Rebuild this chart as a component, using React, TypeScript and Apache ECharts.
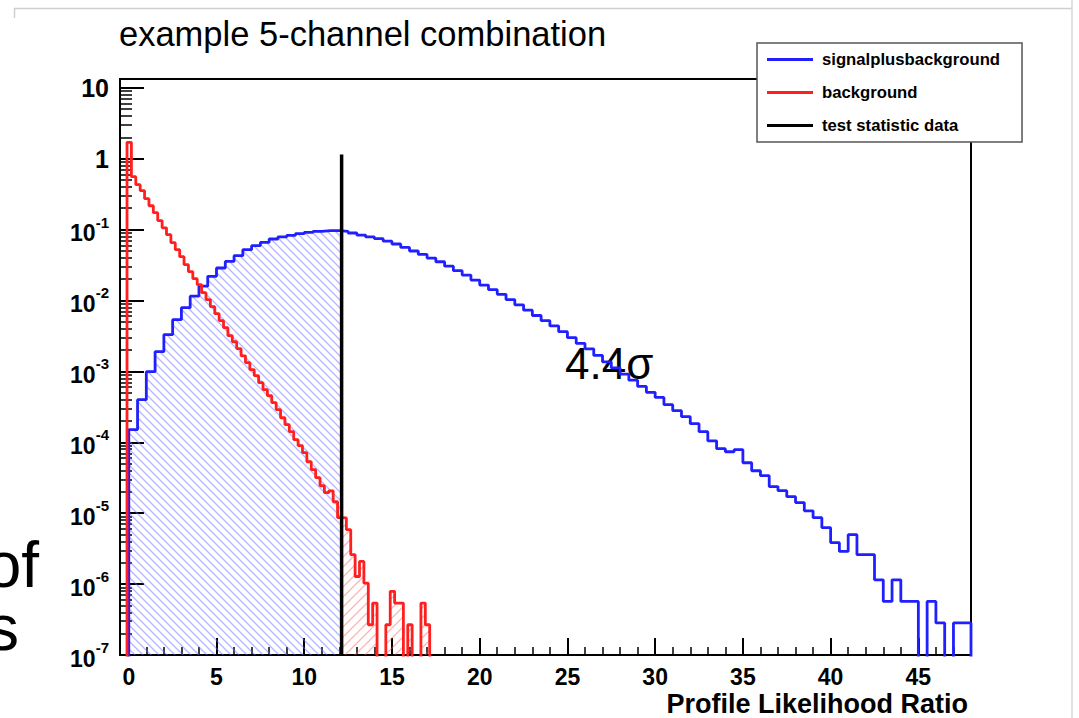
import React, { useEffect, useRef } from "react";
import * as echarts from "echarts";

// ---------------- data ----------------
const sbBinStart = 0;
const sbBinWidth = 0.5;
const sbValues = [
  1.51e-4, 3.99e-4, 9.9e-4, 1.9e-3, 3.3e-3, 5.36e-3, 7.91e-3, 1.15e-2, 1.59e-2, 2.19e-2,
  2.87e-2, 3.56e-2, 4.29e-2, 5.21e-2, 5.93e-2, 6.59e-2, 7.37e-2, 7.87e-2, 8.28e-2, 8.75e-2,
  9.14e-2, 9.44e-2, 9.64e-2, 9.64e-2, 9.44e-2, 8.95e-2, 8.36e-2, 7.89e-2, 7.44e-2, 6.86e-2,
  6.26e-2, 5.61e-2, 4.99e-2, 4.46e-2, 3.96e-2, 3.52e-2, 3.05e-2, 2.63e-2, 2.28e-2, 1.94e-2,
  1.65e-2, 1.42e-2, 1.22e-2, 1.03e-2, 8.69e-3, 7.3e-3, 6.14e-3, 5.19e-3, 4.38e-3, 3.63e-3,
  2.99e-3, 2.48e-3, 2.08e-3, 1.68e-3, 1.36e-3, 1.12e-3, 9.16e-4, 7.52e-4, 6.14e-4, 5.06e-4,
  4.3e-4, 3.39e-4, 2.79e-4, 2.3e-4, 1.83e-4, 1.41e-4, 1.05e-4, 8.13e-5, 7.36e-5, 7.87e-5,
  5.15e-5, 3.97e-5, 3.38e-5, 2.37e-5, 2.08e-5, 1.71e-5, 1.41e-5, 1.08e-5, 8.65e-6, 6.24e-6,
  3.84e-6, 2.89e-6, 4.98e-6, 2.6e-6, 2.6e-6, 1.15e-6, 5.7e-7, 1.15e-6, 5.7e-7, 5.7e-7,
  0, 5.7e-7, 2.83e-7, 0, 2.83e-7, 2.83e-7,
];

const bBinStart = -0.1;
const bBinWidth = 0.25;
const bValues = [
  1.7, 0.557, 0.43, 0.354, 0.273, 0.217, 0.173, 0.134, 0.106, 0.0847,
  0.0653, 0.0521, 0.0415, 0.032, 0.0255, 0.0203, 0.0167, 0.0129, 0.0103, 8.18e-3,
  6.52e-3, 5.19e-3, 4.13e-3, 3.19e-3, 2.62e-3, 2.09e-3, 1.66e-3, 1.33e-3, 1.06e-3, 8.69e-4,
  6.93e-4, 5.52e-4, 4.54e-4, 3.62e-4, 2.88e-4, 2.22e-4, 1.77e-4, 1.41e-4, 1.09e-4, 8.95e-5,
  7.13e-5, 5.32e-5, 4.11e-5, 3.17e-5, 2.44e-5, 1.95e-5, 2.07e-5, 1.45e-5, 8.65e-6, 8.6e-6,
  5.85e-6, 2.6e-6, 1.28e-6, 2.09e-6, 1.03e-6, 2.67e-7, 5.4e-7, 0, 0, 2.67e-7,
  7.9e-7, 5.4e-7, 5.4e-7, 0, 2.67e-7, 0, 0, 5.4e-7, 2.67e-7, 0,
  0, 0, 0, 0,
];

const testStatistic = 12.13;
const testLineTop = 1.15;

const xMajorTicks = [0, 5, 10, 15, 20, 25, 30, 35, 40, 45];
const xMinorTicks = [
  0, 1, 2, 3, 4, 5, 6, 7, 8, 9, 10, 11, 12, 13, 14, 15, 16, 17, 18, 19, 20, 21, 22, 23, 24,
  25, 26, 27, 28, 29, 30, 31, 32, 33, 34, 35, 36, 37, 38, 39, 40, 41, 42, 43, 44, 45, 46, 47, 48,
];
const yDecades = [1e-7, 1e-6, 1e-5, 1e-4, 1e-3, 1e-2, 1e-1, 1, 10];
const yMinorMultipliers = [2, 3, 4, 5, 6, 7, 8, 9];

const names = ["signalplusbackground", "background", "test statistic data"];

// ---------------- helpers ----------------
const FLOOR = 1e-9;
const val = (v: number) => (v > 0 ? v : FLOOR);

function stepPoints(start: number, width: number, values: number[]) {
  const pts: number[][] = [[start, FLOOR]];
  values.forEach((v, i) => pts.push([start + i * width, val(v)]));
  const end = start + values.length * width;
  pts.push([end, val(values[values.length - 1])]);
  pts.push([end, FLOOR]);
  return pts;
}

function fillBefore(start: number, width: number, values: number[], t: number) {
  const pts: number[][] = [];
  let last = FLOOR;
  for (let i = 0; i < values.length; i++) {
    const e = start + i * width;
    if (e >= t) break;
    last = val(values[i]);
    pts.push([e, last]);
  }
  pts.push([t, last]);
  return pts;
}

function fillAfter(start: number, width: number, values: number[], t: number) {
  const k = Math.floor((t - start) / width);
  const pts: number[][] = [[t, val(values[k])]];
  for (let i = k + 1; i < values.length; i++) pts.push([start + i * width, val(values[i])]);
  pts.push([start + values.length * width, val(values[values.length - 1])]);
  return pts;
}

// dir 1: "/" lines, dir -1: "\" lines
function hatch(color: string, size: number, w: number, dir: number) {
  const s = size;
  const d =
    dir > 0
      ? `M${-s / 4},${s / 4} L${s / 4},${-s / 4} M0,${s} L${s},0 M${(3 * s) / 4},${(5 * s) / 4} L${(5 * s) / 4},${(3 * s) / 4}`
      : `M${-s / 4},${(3 * s) / 4} L${s / 4},${(5 * s) / 4} M0,0 L${s},${s} M${(3 * s) / 4},${-s / 4} L${(5 * s) / 4},${s / 4}`;
  const svg =
    `<svg xmlns='http://www.w3.org/2000/svg' width='${s}' height='${s}'>` +
    `<path d='${d}' stroke='${color}' stroke-width='${w}' fill='none'/></svg>`;
  return {
    image: "data:image/svg+xml;charset=utf-8," + encodeURIComponent(svg),
    repeat: "repeat",
    imageWidth: s,
    imageHeight: s,
  };
}

const FONT = "'Liberation Sans', Arial, Helvetica, sans-serif";

export default function App() {
  const ref = useRef<HTMLDivElement>(null);

  useEffect(() => {
    if (!ref.current) return;
    const chart = echarts.init(ref.current, null, { renderer: "svg" });

    const yMinor: number[] = [];
    yDecades.forEach((d) => {
      yMinorMultipliers.forEach((m) => {
        const v = d * m;
        if (v < 13.3) yMinor.push(v);
      });
    });

    const yLabelFormatter = (v: number) => {
      const e = Math.round(Math.log10(v));
      if (e === 1) return "{n|10}";
      if (e === 0) return "{n|1}";
      return "{m|10}{s|" + e + "}";
    };

    const option: any = {
      animation: false,
      backgroundColor: "#fff",
      title: {
        text: "example 5-channel combination",
        left: 119,
        top: 16,
        padding: 0,
        textStyle: { fontFamily: FONT, fontSize: 34.5, fontWeight: "normal", color: "#000" },
      },
      legend: {
        orient: "vertical",
        left: 757,
        top: 43,
        padding: [8, 22, 8, 10],
        itemWidth: 46,
        itemHeight: 3,
        itemGap: 16,
        backgroundColor: "#fff",
        borderColor: "#555",
        borderWidth: 1.5,
        selectedMode: false,
        textStyle: {
          fontFamily: FONT,
          fontSize: 16.7,
          fontWeight: "bold",
          color: "#000",
          lineHeight: 16,
          padding: [0, 0, 0, 4],
        },
        data: names.map((n) => ({ name: n, icon: "rect" })),
      },
      grid: {
        left: 120,
        right: 108,
        top: 79,
        bottom: 63,
        show: true,
        borderColor: "#000",
        borderWidth: 2,
        backgroundColor: "transparent",
      },
      xAxis: [
        {
          type: "value",
          min: -0.5,
          max: 48,
          position: "bottom",
          axisLine: { show: true, onZero: false, lineStyle: { color: "#000", width: 2 } },
          axisTick: { show: true, inside: true, length: 17, customValues: xMajorTicks, lineStyle: { color: "#000", width: 2 } },
          axisLabel: {
            customValues: xMajorTicks,
            fontFamily: FONT,
            fontSize: 23,
            fontWeight: "bold",
            color: "#000",
            margin: 10,
          },
          splitLine: { show: false },
          name: "Profile Likelihood Ratio",
          nameLocation: "end",
          nameGap: -3,
          nameTextStyle: {
            fontFamily: FONT,
            fontSize: 27,
            fontWeight: "bold",
            color: "#000",
            align: "right",
            verticalAlign: "top",
            padding: [35, 0, 0, 0],
          },
        },
        {
          type: "value",
          min: -0.5,
          max: 48,
          position: "bottom",
          axisLine: { show: false, onZero: false },
          axisTick: { show: true, inside: true, length: 8, customValues: xMinorTicks, lineStyle: { color: "#000", width: 1.5 } },
          axisLabel: { show: false },
          splitLine: { show: false },
        },
      ],
      yAxis: [
        {
          type: "log",
          logBase: 10,
          min: 1e-7,
          max: 13.3,
          position: "left",
          axisLine: { show: true, onZero: false, lineStyle: { color: "#000", width: 2 } },
          axisTick: { show: true, inside: true, length: 24, customValues: yDecades, lineStyle: { color: "#000", width: 2 } },
          axisLabel: {
            customValues: yDecades,
            margin: 11,
            formatter: yLabelFormatter,
            rich: {
              n: { fontFamily: FONT, fontSize: 25, fontWeight: "bold", color: "#000" },
              m: { fontFamily: FONT, fontSize: 23, fontWeight: "bold", color: "#000", lineHeight: 30, verticalAlign: "bottom" },
              s: { fontFamily: FONT, fontSize: 15, fontWeight: "bold", color: "#000", lineHeight: 15, verticalAlign: "top" },
            },
          },
          splitLine: { show: false },
        },
        {
          type: "log",
          logBase: 10,
          min: 1e-7,
          max: 13.3,
          position: "left",
          axisLine: { show: false, onZero: false },
          axisTick: { show: true, inside: true, length: 12, customValues: yMinor, lineStyle: { color: "#000", width: 1.5 } },
          axisLabel: { show: false },
          splitLine: { show: false },
        },
      ],
      graphic: [
        { type: "line", shape: { x1: 14, y1: 8.5, x2: 1072, y2: 8.5 }, style: { stroke: "#cfcfcf", lineWidth: 1.5 } },
        { type: "line", shape: { x1: 14.5, y1: 8, x2: 14.5, y2: 18 }, style: { stroke: "#cfcfcf", lineWidth: 1.5 } },
        { type: "line", shape: { x1: 1072, y1: 0, x2: 1072, y2: 718 }, style: { stroke: "#d8d8d8", lineWidth: 1.5 } },
        {
          type: "text",
          x: 565,
          y: 363,
          style: { text: "4.4σ", font: `44px ${FONT}`, fill: "#000", align: "left", verticalAlign: "middle", textAlign: "left", textVerticalAlign: "middle" },
        },
        {
          type: "text",
          x: 39,
          y: 565,
          style: { text: "of", font: `64px ${FONT}`, lineHeight: 54, fill: "#000", align: "right", verticalAlign: "middle", textAlign: "right", textVerticalAlign: "middle" },
        },
        {
          type: "text",
          x: 19,
          y: 628,
          style: { text: "s", font: `64px ${FONT}`, lineHeight: 54, fill: "#000", align: "right", verticalAlign: "middle", textAlign: "right", textVerticalAlign: "middle" },
        },
      ],
      series: [
        {
          name: "sbFill",
          type: "line",
          step: "end",
          symbol: "none",
          silent: true,
          z: 1,
          data: fillBefore(sbBinStart, sbBinWidth, sbValues, testStatistic),
          lineStyle: { width: 0, opacity: 0 },
          areaStyle: { origin: "start", opacity: 1, color: hatch("rgba(110,110,255,0.5)", 8, 1.3, -1) },
        },
        {
          name: "bFill",
          type: "line",
          step: "end",
          symbol: "none",
          silent: true,
          z: 1,
          data: fillAfter(bBinStart, bBinWidth, bValues, testStatistic),
          lineStyle: { width: 0, opacity: 0 },
          areaStyle: { origin: "start", opacity: 1, color: hatch("rgba(255,90,90,0.45)", 10, 1.3, 1) },
        },
        {
          name: names[0],
          type: "line",
          step: "end",
          symbol: "none",
          z: 2,
          color: "#1f1fff",
          data: stepPoints(sbBinStart, sbBinWidth, sbValues),
          lineStyle: { width: 2.8, color: "#1f1fff" },
        },
        {
          name: names[1],
          type: "line",
          step: "end",
          symbol: "none",
          z: 3,
          color: "#ff1f1f",
          data: stepPoints(bBinStart, bBinWidth, bValues),
          lineStyle: { width: 2.8, color: "#ff1f1f" },
        },
        {
          name: names[2],
          type: "line",
          symbol: "none",
          z: 4,
          color: "#000",
          data: [
            [testStatistic, 1e-7],
            [testStatistic, testLineTop],
          ],
          lineStyle: { width: 3.5, color: "#000" },
        },
      ],
    };

    chart.setOption(option);
    return () => chart.dispose();
  }, []);

  return (
    <div
      ref={ref}
      style={{ position: "fixed", left: 0, top: 0, width: 1079, height: 718, background: "#fff" }}
    />
  );
}
